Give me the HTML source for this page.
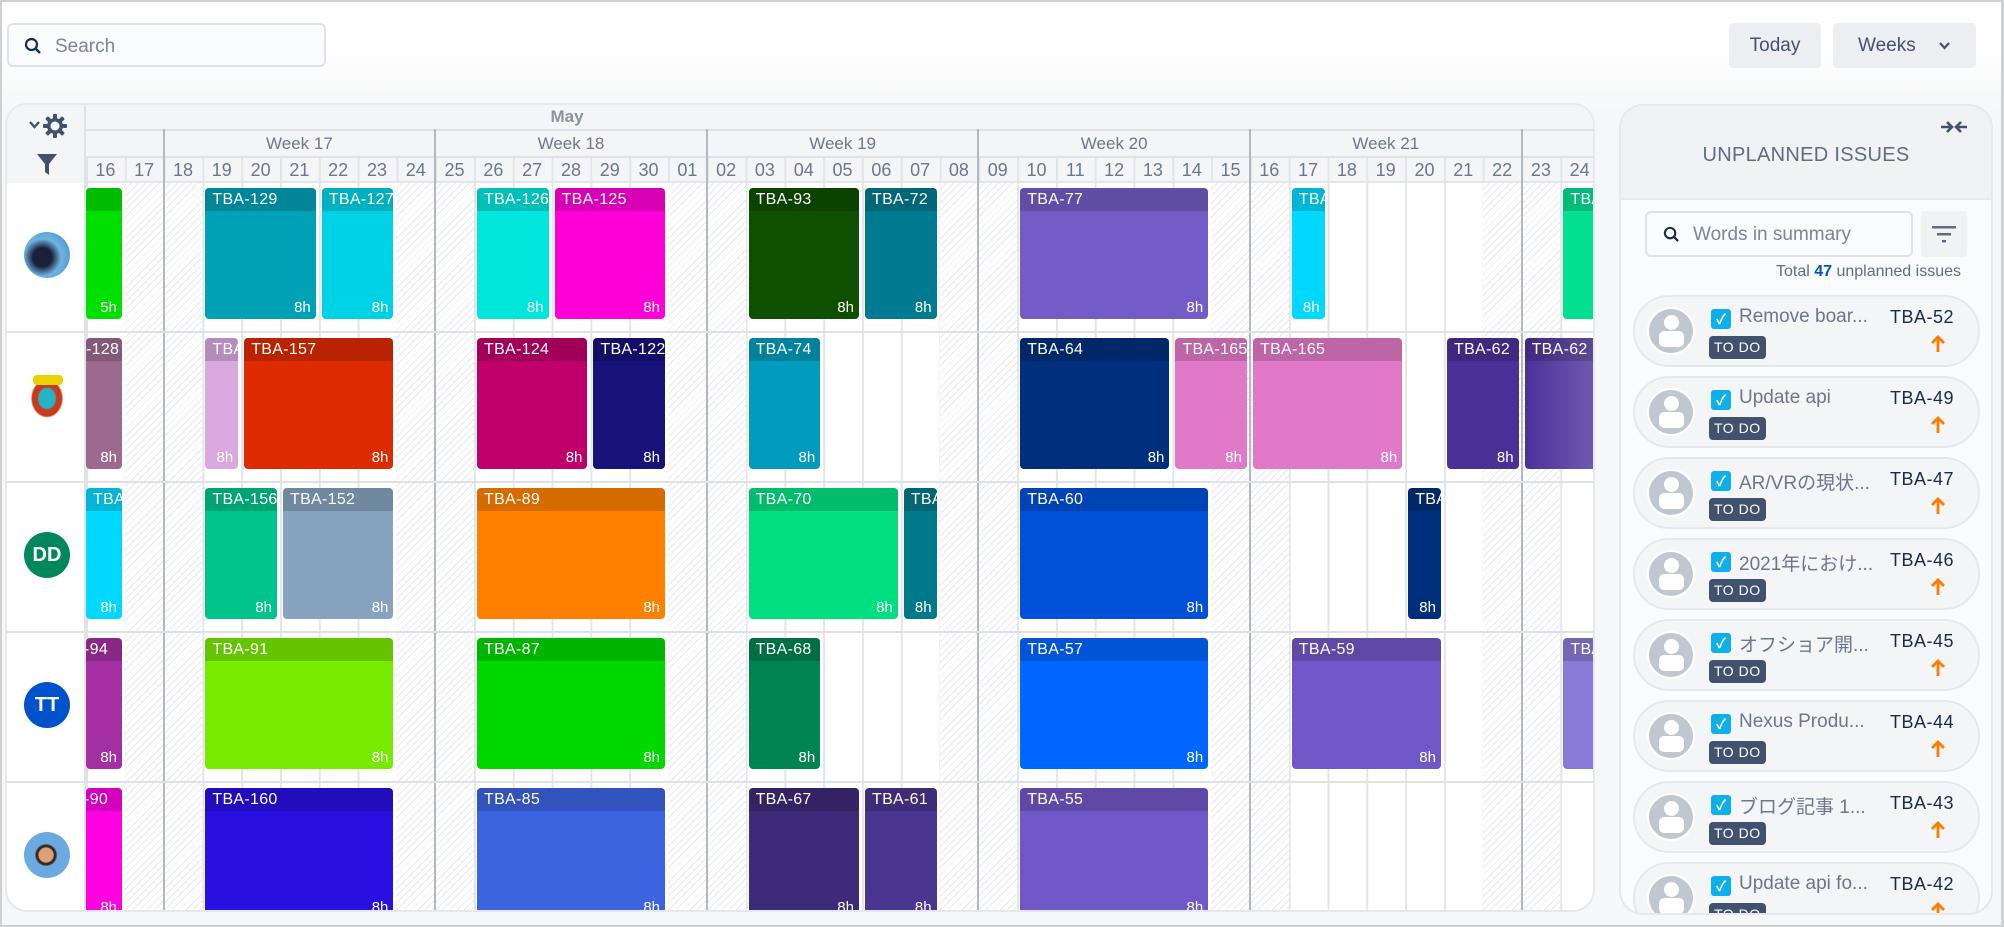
<!DOCTYPE html>
<html style="width:2004px;height:927px;overflow:hidden"><head><meta charset="utf-8"><style>
*{box-sizing:border-box;margin:0;padding:0}
body{width:2004px;height:927px;overflow:hidden;background:#fff;font-family:"Liberation Sans","Noto Sans CJK JP",sans-serif;position:relative}
.frame{position:absolute;left:0;top:0;width:2004px;height:927px;border:2px solid #cfd0d2;border-right-width:3px;background:linear-gradient(#fff 0,#fff 40px,#f6f7f8 110px,#f6f7f8 100%)}
.search{position:absolute;left:7px;top:23px;width:319px;height:44px;border:2px solid #dfe1e6;border-radius:6px;background:#fafbfc;color:#7a869a;font-size:19px;padding:11px 0 0 46px}
.btn{position:absolute;top:23px;height:45px;background:#eceef1;border-radius:4px;color:#42526e;font-size:19px;text-align:center;line-height:45px}
.cal{position:absolute;left:5px;top:103px;width:1590px;height:809px;border:2px solid #e6e8eb;border-radius:22px;background:#fff;overflow:hidden}
.hdr{position:absolute;left:0;top:0;width:100%;height:78px;background:#f4f5f7;border-bottom:2px solid #e4e6ea}
.lab{position:absolute;color:#6b778c;text-align:center}
.hatch{position:absolute;top:78px;height:730px;width:38.8px;background:repeating-linear-gradient(135deg,#fff 0,#fff 4px,#e8e9ec 4px,#e8e9ec 5px)}
.wl{position:absolute;top:24px;height:784px;width:2px;background:#b3b9c4}
.rs{position:absolute;left:0;width:100%;height:2px;background:#dfe1e6}
.b{position:absolute;height:131px;border-radius:4px;overflow:hidden;color:#fff;font-size:16px}
.b::before{content:"";position:absolute;left:0;top:0;right:0;height:23px;background:rgba(0,0,0,.16)}
.b span{position:absolute;left:7px;top:3px;white-space:nowrap;letter-spacing:.3px}
.b i{position:absolute;right:5px;bottom:3px;font-style:normal;font-size:15px}
.av{position:absolute;left:17px;width:46px;height:46px;border-radius:50%;color:#fff;font-size:20px;text-align:center;line-height:46px;font-weight:bold}
.rp{position:absolute;left:1619px;top:104px;width:374px;height:811px;border:2px solid #e6e8eb;border-radius:24px;background:#fafbfc;overflow:hidden}
.rph{position:absolute;left:0;top:0;width:100%;height:94px;background:#f1f2f4;border-bottom:2px solid #e6e8eb}
.card{position:absolute;left:12px;width:347px;height:72px;border:2px solid #e6e8eb;border-radius:36px;background:#f4f5f7}
.card .pa{position:absolute;left:12px;top:10px;width:48px;height:48px;border-radius:50%;background:#c1c7d0;border:2px solid #fff;overflow:hidden}
.pa::before{content:"";position:absolute;left:15px;top:6px;width:15px;height:15px;border-radius:50%;background:#fff}
.pa::after{content:"";position:absolute;left:10px;top:22px;width:25px;height:16px;border-radius:5px;background:#fff}
.cb{position:absolute;left:76px;top:12px;width:20px;height:20px;border-radius:3px;background:#0eb0ec;color:#fff;font-size:14px;text-align:center;line-height:20px;font-weight:bold}
.tt{position:absolute;left:104px;top:9px;color:#6b778c;font-size:19px;white-space:nowrap}
.key{position:absolute;right:24px;top:10px;color:#172b4d;font-size:18px;letter-spacing:.5px}
.todo{position:absolute;left:74px;top:39px;height:23px;padding:0 5px;border-radius:4px;background:#42526e;color:#fff;font-size:14px;line-height:23px;letter-spacing:.5px}
.arr{position:absolute;right:33px;top:38px}
</style></head><body>
<div class="frame"></div>
<div class="search"><svg style="position:absolute;left:15px;top:12px" width="18" height="18" viewBox="0 0 18 18"><circle cx="7.5" cy="7.5" r="5.5" fill="none" stroke="#172b4d" stroke-width="2.2"/><line x1="11.5" y1="11.5" x2="16" y2="16" stroke="#172b4d" stroke-width="2.4"/></svg>Search</div>
<div class="btn" style="left:1729px;width:92px">Today</div>
<div class="btn" style="left:1833px;width:143px;text-align:left;padding-left:25px">Weeks <svg style="position:absolute;left:106px;top:19px" width="11" height="8" viewBox="0 0 11 8"><path d="M1 1L5.5 6L10 1" fill="none" stroke="#42526e" stroke-width="2.2"/></svg></div>

<div class="cal">
<div class="hdr"></div>
<div style="position:absolute;left:79px;top:0;width:1520px;height:100%;background-image:linear-gradient(to right,#e3e5e9 2px,transparent 2px);background-size:38.8px 100%;background-position:0 51px;background-repeat:repeat-x"></div>
<div style="position:absolute;left:79px;top:0;width:2px;height:100%;background:#e0e2e6"></div>
<div style="position:absolute;left:79px;top:24px;width:1520px;height:2px;background:#e0e2e6"></div>
<div style="position:absolute;left:79px;top:51px;width:1520px;height:2px;background:#e0e2e6"></div>
<div style="position:absolute;left:79px;top:0;width:1520px;height:24px;background:#f4f5f7"></div>
<div style="position:absolute;left:79px;top:26px;width:1520px;height:25px;background:#f4f5f7"></div>
<div class="lab" style="left:520px;top:2px;width:80px;font-size:17px;font-weight:bold;color:#8993a4">May</div>

<div class="hatch" style="left:117.8px"></div><div class="hatch" style="left:156.6px"></div>
<div class="hatch" style="left:389.4px"></div><div class="hatch" style="left:428.2px"></div>
<div class="hatch" style="left:661px"></div><div class="hatch" style="left:699.8px"></div>
<div class="hatch" style="left:932.6px"></div><div class="hatch" style="left:971.4px"></div>
<div class="hatch" style="left:1204.2px"></div><div class="hatch" style="left:1243px"></div>
<div class="hatch" style="left:1475.8px"></div><div class="hatch" style="left:1514.6px"></div>

<div class="wl" style="left:155.6px"></div><div class="wl" style="left:427.2px"></div><div class="wl" style="left:698.8px"></div><div class="wl" style="left:970.4px"></div><div class="wl" style="left:1242px"></div><div class="wl" style="left:1513.6px"></div>
<div class="lab" style="left:156.6px;top:29px;width:271.6px;font-size:17px">Week 17</div>
<div class="lab" style="left:428.2px;top:29px;width:271.6px;font-size:17px">Week 18</div>
<div class="lab" style="left:699.8px;top:29px;width:271.6px;font-size:17px">Week 19</div>
<div class="lab" style="left:971.4px;top:29px;width:271.6px;font-size:17px">Week 20</div>
<div class="lab" style="left:1243px;top:29px;width:271.6px;font-size:17px">Week 21</div>

<div style="position:absolute;left:79px;top:55px;display:flex;font-size:18px;color:#6b778c">
<div style="width:38.8px;text-align:center">16</div><div style="width:38.8px;text-align:center">17</div><div style="width:38.8px;text-align:center">18</div><div style="width:38.8px;text-align:center">19</div><div style="width:38.8px;text-align:center">20</div><div style="width:38.8px;text-align:center">21</div><div style="width:38.8px;text-align:center">22</div><div style="width:38.8px;text-align:center">23</div><div style="width:38.8px;text-align:center">24</div><div style="width:38.8px;text-align:center">25</div><div style="width:38.8px;text-align:center">26</div><div style="width:38.8px;text-align:center">27</div><div style="width:38.8px;text-align:center">28</div><div style="width:38.8px;text-align:center">29</div><div style="width:38.8px;text-align:center">30</div><div style="width:38.8px;text-align:center">01</div><div style="width:38.8px;text-align:center">02</div><div style="width:38.8px;text-align:center">03</div><div style="width:38.8px;text-align:center">04</div><div style="width:38.8px;text-align:center">05</div><div style="width:38.8px;text-align:center">06</div><div style="width:38.8px;text-align:center">07</div><div style="width:38.8px;text-align:center">08</div><div style="width:38.8px;text-align:center">09</div><div style="width:38.8px;text-align:center">10</div><div style="width:38.8px;text-align:center">11</div><div style="width:38.8px;text-align:center">12</div><div style="width:38.8px;text-align:center">13</div><div style="width:38.8px;text-align:center">14</div><div style="width:38.8px;text-align:center">15</div><div style="width:38.8px;text-align:center">16</div><div style="width:38.8px;text-align:center">17</div><div style="width:38.8px;text-align:center">18</div><div style="width:38.8px;text-align:center">19</div><div style="width:38.8px;text-align:center">20</div><div style="width:38.8px;text-align:center">21</div><div style="width:38.8px;text-align:center">22</div><div style="width:38.8px;text-align:center">23</div><div style="width:38.8px;text-align:center">24</div>
</div>

<div style="position:absolute;left:0;top:78px;width:79px;height:730px;background:#fff;border-right:2px solid #e0e2e6"></div>
<div style="position:absolute;left:0;top:0;width:79px;height:78px;background:#f4f5f7;border-right:2px solid #e0e2e6"></div>
<svg style="position:absolute;left:22px;top:16px" width="11" height="8" viewBox="0 0 11 8"><path d="M1 1L5.5 6L10 1" fill="none" stroke="#42526e" stroke-width="2.4"/></svg>
<svg style="position:absolute;left:36px;top:9px" width="24" height="24" viewBox="0 0 24 24"><g fill="#42526e"><circle cx="12" cy="12" r="8"/><rect x="10" y="0" width="4" height="24" rx="1"/><rect x="0" y="10" width="24" height="4" rx="1"/><rect x="10" y="0" width="4" height="24" rx="1" transform="rotate(45 12 12)"/><rect x="10" y="0" width="4" height="24" rx="1" transform="rotate(-45 12 12)"/></g><circle cx="12" cy="12" r="4.5" fill="#f4f5f7"/></svg>
<svg style="position:absolute;left:30px;top:49px" width="20" height="22" viewBox="0 0 20 22"><path d="M0 0H20L12 10V21L8 18V10Z" fill="#42526e"/></svg>

<div class="rs" style="top:226px"></div><div class="rs" style="top:376px"></div><div class="rs" style="top:526px"></div><div class="rs" style="top:676px"></div>

<div class="av" style="top:127px;background:radial-gradient(circle at 40% 55%,#1a1f3a 0 25%,#6fb4e0 50%,#3a86c4 100%)"></div>
<div class="av" style="top:275px;background:radial-gradient(ellipse at 50% 40%,#25b3c8 0 25%,#c83a1a 30% 45%,#fff 50%)"></div>
<div style="position:absolute;left:26px;top:270px;width:30px;height:10px;border-radius:4px;background:#e8d200"></div>
<div class="av" style="top:427px;background:#00875a">DD</div>
<div class="av" style="top:577px;background:#0052cc">TT</div>
<div class="av" style="top:727px;background:radial-gradient(circle at 48% 50%,#d9a07a 0 22%,#3a2a20 24% 30%,#6aaae0 34%)"></div>

<!-- row1 -->
<div class="b" style="left:79px;top:83px;width:36px;background:#00e000"><i>5h</i></div>
<div class="b" style="left:198.4px;top:83px;width:110.4px;background:#00a0b5"><span>TBA-129</span><i>8h</i></div>
<div class="b" style="left:314.8px;top:83px;width:71.6px;background:#00d2e6"><span>TBA-127</span><i>8h</i></div>
<div class="b" style="left:470px;top:83px;width:71.6px;background:#00e5dc"><span>TBA-126</span><i>8h</i></div>
<div class="b" style="left:547.6px;top:83px;width:110.4px;background:#ff00d8"><span>TBA-125</span><i>8h</i></div>
<div class="b" style="left:741.6px;top:83px;width:110.4px;background:#0e4f00"><span>TBA-93</span><i>8h</i></div>
<div class="b" style="left:858px;top:83px;width:71.6px;background:#007a90"><span>TBA-72</span><i>8h</i></div>
<div class="b" style="left:1013.2px;top:83px;width:188px;background:#735cc6"><span>TBA-77</span><i>8h</i></div>
<div class="b" style="left:1284.8px;top:83px;width:32.8px;background:#00d8ff"><span>TBA</span><i>8h</i></div>
<div class="b" style="left:1556.4px;top:83px;width:50px;background:#00e090"><span>TBA</span></div>
<!-- row2 -->
<div class="b" style="left:79px;top:233px;width:36px;background:#9b6a8e"><span style="left:-32px">TBA-128</span><i>8h</i></div>
<div class="b" style="left:198.4px;top:233px;width:32.8px;background:#d8a8df"><span>TBA</span><i>8h</i></div>
<div class="b" style="left:237.2px;top:233px;width:149.2px;background:#dd2a00"><span>TBA-157</span><i>8h</i></div>
<div class="b" style="left:470px;top:233px;width:110.4px;background:#c0006a"><span>TBA-124</span><i>8h</i></div>
<div class="b" style="left:586.4px;top:233px;width:71.6px;background:#18137a"><span>TBA-122</span><i>8h</i></div>
<div class="b" style="left:741.6px;top:233px;width:71.6px;background:#009bbd"><span>TBA-74</span><i>8h</i></div>
<div class="b" style="left:1013.2px;top:233px;width:149.2px;background:#002f7d"><span>TBA-64</span><i>8h</i></div>
<div class="b" style="left:1168.4px;top:233px;width:71.6px;background:#e07ac8"><span>TBA-165</span><i>8h</i></div>
<div class="b" style="left:1246px;top:233px;width:149.2px;background:#e07ac8"><span>TBA-165</span><i>8h</i></div>
<div class="b" style="left:1440px;top:233px;width:71.6px;background:#4b3197"><span>TBA-62</span><i>8h</i></div>
<div class="b" style="left:1517.6px;top:233px;width:90px;background:linear-gradient(to right,#4b3197,#7a66b8)"><span>TBA-62</span></div>
<!-- row3 -->
<div class="b" style="left:79px;top:383px;width:36px;background:#00d8ff"><span>TBA</span><i>8h</i></div>
<div class="b" style="left:198.4px;top:383px;width:71.6px;background:#00c48a"><span>TBA-156</span><i>8h</i></div>
<div class="b" style="left:276px;top:383px;width:110.4px;background:#86a4c0"><span>TBA-152</span><i>8h</i></div>
<div class="b" style="left:470px;top:383px;width:188px;background:#ff8000"><span>TBA-89</span><i>8h</i></div>
<div class="b" style="left:741.6px;top:383px;width:149.2px;background:#00e080"><span>TBA-70</span><i>8h</i></div>
<div class="b" style="left:896.8px;top:383px;width:32.8px;background:#007a8a"><span>TBA</span><i>8h</i></div>
<div class="b" style="left:1013.2px;top:383px;width:188px;background:#0050d8"><span>TBA-60</span><i>8h</i></div>
<div class="b" style="left:1401.2px;top:383px;width:32.8px;background:#00307d"><span>TBA</span><i>8h</i></div>
<!-- row4 -->
<div class="b" style="left:79px;top:533px;width:36px;background:#a32fa0"><span style="left:-2px">-94</span><i>8h</i></div>
<div class="b" style="left:198.4px;top:533px;width:188px;background:#78ea00"><span>TBA-91</span><i>8h</i></div>
<div class="b" style="left:470px;top:533px;width:188px;background:#00d800"><span>TBA-87</span><i>8h</i></div>
<div class="b" style="left:741.6px;top:533px;width:71.6px;background:#008450"><span>TBA-68</span><i>8h</i></div>
<div class="b" style="left:1013.2px;top:533px;width:188px;background:#0066ff"><span>TBA-57</span><i>8h</i></div>
<div class="b" style="left:1284.8px;top:533px;width:149.2px;background:#7158c8"><span>TBA-59</span><i>8h</i></div>
<div class="b" style="left:1556.4px;top:533px;width:50px;background:#8a7ad8"><span>TBA</span></div>
<!-- row5 -->
<div class="b" style="left:79px;top:683px;width:36px;background:#ff00e0"><span style="left:-2px">-90</span><i>8h</i></div>
<div class="b" style="left:198.4px;top:683px;width:188px;background:#2810e0"><span>TBA-160</span><i>8h</i></div>
<div class="b" style="left:470px;top:683px;width:188px;background:#3d64e0"><span>TBA-85</span><i>8h</i></div>
<div class="b" style="left:741.6px;top:683px;width:110.4px;background:#3d2a78"><span>TBA-67</span><i>8h</i></div>
<div class="b" style="left:858px;top:683px;width:71.6px;background:#4a3590"><span>TBA-61</span><i>8h</i></div>
<div class="b" style="left:1013.2px;top:683px;width:188px;background:#7158c8"><span>TBA-55</span><i>8h</i></div>
</div>

<div class="rp">
<div class="rph"></div>
<svg style="position:absolute;right:24px;top:14px" width="26" height="14" viewBox="0 0 26 14"><g fill="none" stroke="#42526e" stroke-width="2.6"><path d="M0 7H10M6 2L11 7L6 12"/><path d="M26 7H16M20 2L15 7L20 12"/></g></svg>
<div style="position:absolute;left:0;width:100%;top:38px;text-align:center;color:#5e6c84;font-size:20px;letter-spacing:.3px">UNPLANNED ISSUES</div>
<div style="position:absolute;left:24px;top:105px;width:268px;height:46px;border:2px solid #dfe1e6;border-radius:6px;background:#fafbfc;color:#7a869a;font-size:19px;padding:11px 0 0 46px"><svg style="position:absolute;left:16px;top:13px" width="17" height="17" viewBox="0 0 18 18"><circle cx="7.5" cy="7.5" r="5.5" fill="none" stroke="#172b4d" stroke-width="2.2"/><line x1="11.5" y1="11.5" x2="16" y2="16" stroke="#172b4d" stroke-width="2.4"/></svg>Words in summary</div>
<div style="position:absolute;left:300px;top:105px;width:46px;height:46px;background:#f1f2f4;border-radius:4px"><svg style="position:absolute;left:11px;top:13px" width="24" height="20" viewBox="0 0 24 20"><rect x="0" y="2" width="24" height="2.5" fill="#5e6c84"/><rect x="5" y="9" width="14" height="2.5" fill="#5e6c84"/><rect x="10" y="16" width="4" height="2.5" fill="#5e6c84"/></svg></div>
<div style="position:absolute;right:30px;top:157px;color:#5e6c84;font-size:16px">Total <b style="color:#0052cc">47</b> unplanned issues</div>

<div class="card" style="top:189px"><div class="pa"></div><div class="cb">&#10003;</div><div class="tt">Remove boar...</div><div class="key">TBA-52</div><div class="todo">TO DO</div><svg class="arr" width="14" height="18" viewBox="0 0 14 18"><path d="M7 17V3M1 8L7 2L13 8" fill="none" stroke="#ff7a00" stroke-width="2.8"/></svg></div>
<div class="card" style="top:270px"><div class="pa"></div><div class="cb">&#10003;</div><div class="tt">Update api</div><div class="key">TBA-49</div><div class="todo">TO DO</div><svg class="arr" width="14" height="18" viewBox="0 0 14 18"><path d="M7 17V3M1 8L7 2L13 8" fill="none" stroke="#ff7a00" stroke-width="2.8"/></svg></div>
<div class="card" style="top:351px"><div class="pa"></div><div class="cb">&#10003;</div><div class="tt">AR/VRの現状...</div><div class="key">TBA-47</div><div class="todo">TO DO</div><svg class="arr" width="14" height="18" viewBox="0 0 14 18"><path d="M7 17V3M1 8L7 2L13 8" fill="none" stroke="#ff7a00" stroke-width="2.8"/></svg></div>
<div class="card" style="top:432px"><div class="pa"></div><div class="cb">&#10003;</div><div class="tt">2021年におけ...</div><div class="key">TBA-46</div><div class="todo">TO DO</div><svg class="arr" width="14" height="18" viewBox="0 0 14 18"><path d="M7 17V3M1 8L7 2L13 8" fill="none" stroke="#ff7a00" stroke-width="2.8"/></svg></div>
<div class="card" style="top:513px"><div class="pa"></div><div class="cb">&#10003;</div><div class="tt">オフショア開...</div><div class="key">TBA-45</div><div class="todo">TO DO</div><svg class="arr" width="14" height="18" viewBox="0 0 14 18"><path d="M7 17V3M1 8L7 2L13 8" fill="none" stroke="#ff7a00" stroke-width="2.8"/></svg></div>
<div class="card" style="top:594px"><div class="pa"></div><div class="cb">&#10003;</div><div class="tt">Nexus Produ...</div><div class="key">TBA-44</div><div class="todo">TO DO</div><svg class="arr" width="14" height="18" viewBox="0 0 14 18"><path d="M7 17V3M1 8L7 2L13 8" fill="none" stroke="#ff7a00" stroke-width="2.8"/></svg></div>
<div class="card" style="top:675px"><div class="pa"></div><div class="cb">&#10003;</div><div class="tt">ブログ記事 1...</div><div class="key">TBA-43</div><div class="todo">TO DO</div><svg class="arr" width="14" height="18" viewBox="0 0 14 18"><path d="M7 17V3M1 8L7 2L13 8" fill="none" stroke="#ff7a00" stroke-width="2.8"/></svg></div>
<div class="card" style="top:756px"><div class="pa"></div><div class="cb">&#10003;</div><div class="tt">Update api fo...</div><div class="key">TBA-42</div><div class="todo">TO DO</div><svg class="arr" width="14" height="18" viewBox="0 0 14 18"><path d="M7 17V3M1 8L7 2L13 8" fill="none" stroke="#ff7a00" stroke-width="2.8"/></svg></div>
</div>
</body></html>
